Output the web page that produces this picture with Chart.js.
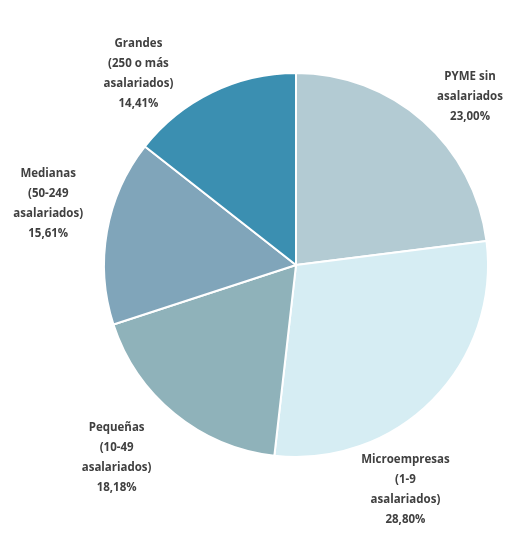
<!doctype html>
<html lang="es">
<head>
  <meta charset="utf-8">
  <title>Empresas por tamaño</title>
  <style>
    html, body { margin: 0; padding: 0; background: #fff; }
    #wrap { width: 510px; height: 543px; }
  </style>
</head>
<body>
  <div id="wrap"><canvas id="migrafico" width="510" height="543"></canvas></div>

  <script src="https://cdn.jsdelivr.net/npm/chart.js"></script>
  <script>
    // datos
    const etiquetas = [
      ['PYME sin', 'asalariados'],
      ['Microempresas', '(1-9', 'asalariados)'],
      ['Pequeñas', '(10-49', 'asalariados)'],
      ['Medianas', '(50-249', 'asalariados)'],
      ['Grandes', '(250 o más', 'asalariados)']
    ];
    const valores = [23.00, 28.80, 18.18, 15.61, 14.41];
    const colores = ['#b3cbd3', '#d6edf3', '#8fb2ba', '#80a5ba', '#3b8fb1'];

    // donde va cada etiqueta: angulo (grados desde arriba) y distancia relativa al radio
    const posEtiquetas = [
      { ang: 46, dist: 1.26 },
      { ang: 154, dist: 1.30 },
      { ang: 223, dist: 1.37 },
      { ang: 284, dist: 1.33 },
      { ang: 320.5, dist: 1.29 }
    ];

    const fmt = v => v.toFixed(2).replace('.', ',') + '%';

    const etiquetasPlugin = {
      id: 'etiquetas',
      afterDraw(chart) {
        const ctx = chart.ctx;
        const arcs = chart.getDatasetMeta(0).data;
        ctx.save();
        ctx.font = 'bold 11.5px "Open Sans", sans-serif';
        ctx.fillStyle = '#404040';
        ctx.textAlign = 'center';
        ctx.textBaseline = 'middle';
        arcs.forEach((arc, i) => {
          const p = posEtiquetas[i];
          const a = (p.ang - 90) * Math.PI / 180;
          const cx = arc.x + Math.cos(a) * arc.outerRadius * p.dist;
          const cy = arc.y + Math.sin(a) * arc.outerRadius * p.dist;
          const lineas = etiquetas[i].concat([fmt(valores[i])]);
          const alto = 20;
          const y0 = cy - (lineas.length - 1) * alto / 2;
          lineas.forEach((t, k) => ctx.fillText(t, cx, y0 + k * alto));
        });
        ctx.restore();
      }
    };

    new Chart(document.getElementById('migrafico'), {
      type: 'pie',
      data: {
        labels: etiquetas.map(e => e.join(' ')),
        datasets: [{
          data: valores,
          backgroundColor: colores,
          borderColor: '#ffffff',
          borderWidth: 2
        }]
      },
      options: {
        responsive: false,
        animation: false,
        layout: { padding: { left: 102, right: 20, top: 72, bottom: 85 } },
        plugins: {
          legend: { display: false },
          tooltip: { enabled: false }
        }
      },
      plugins: [etiquetasPlugin]
    });
  </script>
</body>
</html>
